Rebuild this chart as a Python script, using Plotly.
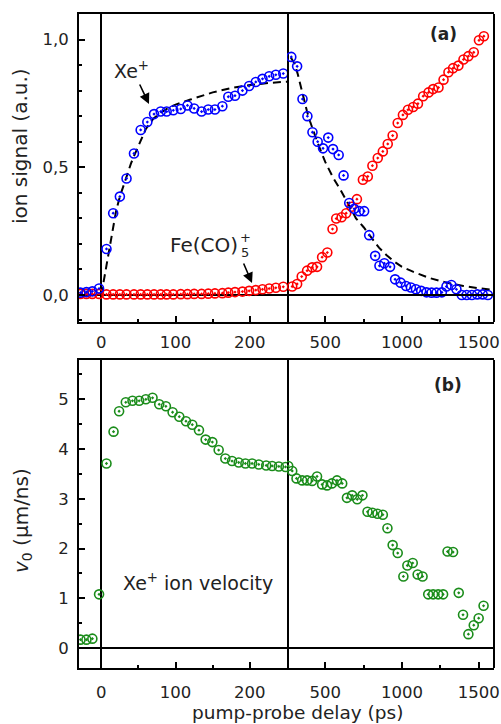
import plotly.graph_objects as go

# ---------------- data ----------------
# panel (a): ion signal, left (linear -30..250 ps) and right (250..1600 ps) parts
t_a_left = [-28, -20, -12, -3, 7, 16, 25, 34, 44, 53, 62, 71, 80, 88, 97, 107, 116, 125,
            135, 144, 153, 163, 171, 180, 190, 199, 208, 217, 226, 235, 245]
xe_left = [0.009, 0.011, 0.014, 0.025, 0.18, 0.32, 0.385, 0.456, 0.554, 0.646, 0.677, 0.708,
           0.718, 0.718, 0.723, 0.728, 0.742, 0.73, 0.718, 0.726, 0.726, 0.739, 0.776, 0.78,
           0.80, 0.818, 0.834, 0.846, 0.856, 0.862, 0.867]
fe_left = [0.004, 0.004, 0.004, 0.004, 0.002, 0.002, 0.002, 0.002, 0.002, 0.002, 0.002, 0.002,
           0.002, 0.002, 0.002, 0.003, 0.003, 0.004, 0.004, 0.005, 0.006, 0.007, 0.009, 0.011,
           0.013, 0.016, 0.019, 0.022, 0.025, 0.028, 0.032]

t_xe_right = [278, 316, 351, 383, 416, 450, 485, 519, 550, 587, 619, 656, 688, 721, 753, 786,
              825, 853, 885, 922, 955, 991, 1026, 1058, 1091, 1125, 1160, 1193, 1225, 1260,
              1290, 1322, 1355, 1390, 1422, 1456, 1491, 1526, 1560]
xe_right = [0.932, 0.895, 0.767, 0.70, 0.637, 0.60, 0.574, 0.616, 0.571, 0.548, 0.468, 0.36,
            0.337, 0.328, 0.328, 0.234, 0.153, 0.114, 0.124, 0.11, 0.061, 0.048, 0.035, 0.029,
            0.022, 0.016, 0.01, 0.009, 0.009, 0.01, 0.033, 0.039, 0.022, 0.0, 0.0, 0.0, 0.002,
            0.002, 0.0]

t_fe_right = [284, 316, 346, 381, 414, 446, 479, 513, 547, 571, 606, 636, 671, 706, 745, 777,
              807, 842, 875, 907, 939, 972, 1006, 1039, 1073, 1104, 1138, 1173, 1203, 1238,
              1271, 1303, 1333, 1368, 1401, 1433, 1468, 1502, 1534]
fe_right = [0.033, 0.043, 0.072, 0.095, 0.108, 0.11, 0.148, 0.166, 0.258, 0.299, 0.304, 0.32,
            0.345, 0.375, 0.451, 0.464, 0.506, 0.536, 0.562, 0.591, 0.624, 0.673, 0.705, 0.725,
            0.736, 0.749, 0.778, 0.793, 0.806, 0.812, 0.843, 0.872, 0.888, 0.898, 0.922, 0.935,
            0.95, 0.997, 1.013]

# dashed fit curve
fit_t_left = [0, 5, 10, 15, 20, 25, 30, 35, 40, 45, 50, 55, 60, 70, 80, 90, 100, 120, 150,
              175, 200, 225, 250]
fit_y_left = [0.0, 0.08, 0.16, 0.25, 0.33, 0.385, 0.43, 0.475, 0.515, 0.55, 0.585, 0.62, 0.65,
              0.69, 0.714, 0.732, 0.745, 0.765, 0.793, 0.81, 0.822, 0.83, 0.835]
fit_t_right = [275, 300, 320, 340, 360, 380, 400, 425, 450, 500, 550, 600, 650, 700, 750, 800,
               850, 900, 950, 1000, 1075, 1180, 1290, 1400, 1500, 1600]
fit_y_right = [0.93, 0.905, 0.865, 0.815, 0.765, 0.72, 0.68, 0.635, 0.595, 0.52, 0.46, 0.41,
               0.355, 0.30, 0.265, 0.225, 0.185, 0.155, 0.13, 0.11, 0.09, 0.066, 0.048, 0.035,
               0.026, 0.02]

# panel (b): Xe+ ion velocity
t_b_left = [-28, -20, -12, -3, 7, 16.5, 24, 33, 42, 51, 60, 69, 78, 87, 96, 105, 114, 122.5,
            131.5, 140.5, 149.5, 158, 167, 176, 185, 194, 203, 212, 222, 230, 239, 248]
v_left = [0.17, 0.17, 0.19, 1.08, 3.71, 4.35, 4.76, 4.94, 4.97, 4.97, 5.00, 5.03, 4.90, 4.86,
          4.74, 4.65, 4.56, 4.49, 4.38, 4.19, 4.14, 3.98, 3.81, 3.76, 3.73, 3.71, 3.71, 3.69,
          3.67, 3.66, 3.65, 3.64]
t_b_right = [258, 284, 312, 349, 381, 414, 446, 479, 511, 543, 576, 610, 641, 675, 708, 742,
             775, 807, 840, 875, 905, 939, 972, 1009, 1035, 1070, 1102, 1134, 1171, 1203, 1236,
             1268, 1297, 1333, 1370, 1398, 1433, 1468, 1500, 1532]
v_right = [3.66, 3.56, 3.41, 3.37, 3.37, 3.36, 3.45, 3.29, 3.27, 3.31, 3.37, 3.31, 3.02, 3.07,
           2.99, 3.07, 2.74, 2.72, 2.70, 2.68, 2.41, 2.07, 1.91, 1.44, 1.66, 1.71, 1.48, 1.44,
           1.08, 1.08, 1.08, 1.08, 1.94, 1.93, 1.11, 0.67, 0.28, 0.46, 0.60, 0.85]

a_ytickvals = [0.0, 0.5, 1.0]
a_yticktext = ["0,0", "0,5", "1,0"]
left_xticks = [0, 100, 200]
right_xticks = [500, 1000, 1500]

# ---------------- layout geometry ----------------
W, H = 501, 724
ML, MR, MT, MB = 79, 7, 14, 56
PW, PH = W - ML - MR, H - MT - MB
BREAK_PX = 287
dx = (BREAK_PX - ML) / PW
ya0 = (H - MB - 322) / PH
yb1 = (H - MB - 360) / PH


def pxx(x):
    return (x - ML) / PW


def pxy(y):
    return (H - MB - y) / PH


FONT = "Verdana, DejaVu Sans, sans-serif"
BLUE, RED, GREEN = "#0000ff", "#ff0000", "#1a8c1a"
TXT = "#222222"

fig = go.Figure()


def marks(x, y, color, xa, ya):
    fig.add_trace(go.Scatter(
        x=x, y=y, mode="markers", xaxis=xa, yaxis=ya, showlegend=False, cliponaxis=True,
        marker=dict(symbol="circle-open-dot", size=9, color=color, line=dict(width=1.6, color=color))))


def fitline(x, y, xa, ya):
    fig.add_trace(go.Scatter(
        x=x, y=y, mode="lines", xaxis=xa, yaxis=ya, showlegend=False,
        line=dict(color="black", width=2, dash="8px,5px")))


fitline(fit_t_left, fit_y_left, "x", "y")
fitline(fit_t_right, fit_y_right, "x2", "y")
marks(t_a_left, fe_left, RED, "x", "y")
marks(t_a_left, xe_left, BLUE, "x", "y")
marks(t_fe_right, fe_right, RED, "x2", "y")
marks(t_xe_right, xe_right, BLUE, "x2", "y")
marks(t_b_left, v_left, GREEN, "x3", "y2")
marks(t_b_right, v_right, GREEN, "x4", "y2")

tickfont = dict(family=FONT, size=16.5, color=TXT)
common_x = dict(showline=True, linecolor="black", linewidth=2, mirror=True, ticks="inside",
                ticklen=6, tickwidth=1.5, tickcolor="black", showgrid=False, tickfont=tickfont)

left_x = dict(common_x, range=[-30, 250], domain=[0, dx], tickvals=left_xticks,
              zeroline=True, zerolinecolor="black", zerolinewidth=2,
              minor=dict(ticks="inside", ticklen=3, tickwidth=1.5, tickcolor="black",
                         tickvals=[50, 150]))
right_x = dict(common_x, range=[250, 1600], domain=[dx, 1], tickvals=right_xticks,
               zeroline=False,
               minor=dict(ticks="inside", ticklen=3, tickwidth=1.5, tickcolor="black",
                          tickvals=[750, 1250]))

common_y = dict(showline=True, linecolor="black", linewidth=2, mirror=True, ticks="inside",
                ticklen=6, tickwidth=1.5, tickcolor="black", showgrid=False, tickfont=tickfont,
                zeroline=True, zerolinecolor="black", zerolinewidth=2, ticklabelstandoff=5)

fig.update_layout(
    width=W, height=H, margin=dict(l=ML, r=MR, t=MT, b=MB, autoexpand=False),
    paper_bgcolor="white", plot_bgcolor="white",
    xaxis=dict(left_x, anchor="y", ticklabelstandoff=4),
    xaxis2=dict(right_x, anchor="y", ticklabelstandoff=4),
    xaxis3=dict(left_x, anchor="y2", ticklabelstandoff=8),
    xaxis4=dict(right_x, anchor="y2", ticklabelstandoff=8),
    yaxis=dict(common_y, anchor="x", domain=[ya0, 1], range=[-0.106, 1.10],
               tickvals=a_ytickvals, ticktext=a_yticktext,
               minor=dict(ticks="inside", ticklen=3, tickwidth=1.5, tickcolor="black",
                          tick0=0, dtick=0.1)),
    yaxis2=dict(common_y, anchor="x3", domain=[0, yb1], range=[-0.4, 5.79],
                tick0=0, dtick=1,
                minor=dict(ticks="inside", ticklen=3, tickwidth=1.5, tickcolor="black",
                           tick0=0, dtick=0.5)),
    showlegend=False,
)

# right frame edges
for yref in ["y domain", "y2 domain"]:
    fig.add_shape(type="line", xref="paper", yref=yref, x0=1, x1=1, y0=0, y1=1,
                  line=dict(color="black", width=2))
# zero line in right parts
fig.add_shape(type="line", xref="x2 domain", yref="y", x0=0, x1=1, y0=0, y1=0,
              line=dict(color="black", width=2))
fig.add_shape(type="line", xref="x4 domain", yref="y2", x0=0, x1=1, y0=0, y1=0,
              line=dict(color="black", width=2))


def ann(text, x, y, size=19, **kw):
    d = dict(text=text, x=pxx(x), y=pxy(y), xref="paper", yref="paper", showarrow=False,
             xanchor="center", yanchor="middle", borderpad=0,
             font=dict(family=FONT, size=size, color=TXT))
    d.update(kw)
    fig.add_annotation(**d)


ann("<b>(a)</b>", 443, 34, size=17)
ann("<b>(b)</b>", 448, 385, size=17)
ann("Xe<sup>+</sup>", 131, 70)
ann("Fe(CO)", 169, 245, size=20, xanchor="left")
ann("5", 245, 253, size=13)
ann("+", 245, 237, size=13)
ann("Xe<sup>+</sup> ion velocity", 122, 582, xanchor="left")
ann("ion signal (a.u.)", 20, 146, size=20, textangle=-90)
ann("<i>v</i><sub>0</sub> (µm/ns)", 22, 521, size=20, textangle=-90)
ann("pump-probe delay (ps)", 297, 724, size=18.5, yanchor="bottom")

# arrows
for (tx, ty, hx, hy) in [(139, 83, 149, 104), (243, 262, 252, 283)]:
    fig.add_annotation(x=pxx(hx), y=pxy(hy), xref="paper", yref="paper", ax=tx - hx, ay=ty - hy,
                       axref="pixel", ayref="pixel", showarrow=True, arrowhead=2, arrowsize=1.3,
                       arrowwidth=1.6, arrowcolor="black", text="")

fig.write_html("out.html", config={"displayModeBar": False},
               post_script="document.body.style.margin='0px';document.body.style.overflow='hidden';")
